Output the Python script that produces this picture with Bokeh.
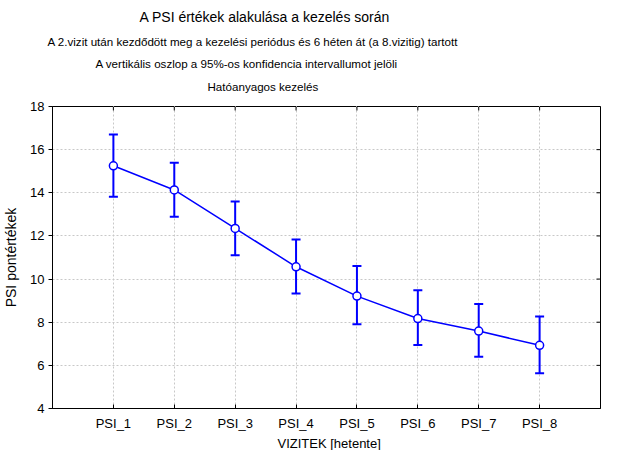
import math
from bokeh.plotting import figure
from bokeh.models import (Range1d, FixedTicker, LinearAxis, Title, Whisker, TeeHead,
                          ColumnDataSource)
from bokeh.embed import file_html
from bokeh.resources import INLINE

categories = ["PSI_1", "PSI_2", "PSI_3", "PSI_4", "PSI_5", "PSI_6", "PSI_7", "PSI_8"]
means = [15.25, 14.13, 12.35, 10.57, 9.21, 8.17, 7.59, 6.93]
upper = [16.70, 15.39, 13.60, 11.84, 10.61, 9.48, 8.85, 8.27]
lower = [13.82, 12.89, 11.11, 9.33, 7.90, 6.94, 6.40, 5.63]
y_ticks = [4, 6, 8, 10, 12, 14, 16, 18]

title_main = "A PSI értékek alakulása a kezelés során"
subtitles = [
    "A 2.vizit után kezdődött meg a kezelési periódus és 6 héten át (a 8.vizitig) tartott",
    "A vertikális oszlop a 95%-os konfidencia intervallumot jelöli",
    "Hatóanyagos kezelés",
]
x_label = "VIZITEK [hetente]"
y_label = "PSI pontértékek"

FONT = "Liberation Sans"
BLUE = "#0000ff"

xs = [i + 1 for i in range(len(categories))]
x_end = len(categories) + 1
src = ColumnDataSource(dict(x=xs, mean=means, upper=upper, lower=lower))

p = figure(width=602, height=450, output_backend="svg", toolbar_location=None,
           x_range=Range1d(0, x_end), y_range=Range1d(y_ticks[0], y_ticks[-1]),
           min_border_left=46, min_border_right=2, min_border_bottom=20, min_border_top=10)
p.background_fill_color = "white"
p.border_fill_color = "white"
p.outline_line_color = "black"
p.outline_line_width = 1

# axes
p.xaxis.ticker = FixedTicker(ticks=xs)
p.xaxis.major_label_overrides = {x: c for x, c in zip(xs, categories)}
p.yaxis.ticker = FixedTicker(ticks=y_ticks)
for ax in (p.xaxis[0], p.yaxis[0]):
    ax.axis_line_color = "black"
    ax.major_tick_line_color = "black"
    ax.minor_tick_line_color = None
    ax.major_label_text_font = FONT
    ax.major_label_text_font_size = "13px"
    ax.major_label_text_color = "black"
    ax.axis_label_text_font = FONT
    ax.axis_label_text_font_style = "normal"
    ax.axis_label_text_color = "black"
p.xaxis.major_tick_in = 4
p.xaxis.major_tick_out = 0
p.xaxis.major_label_standoff = 7
p.yaxis.major_tick_in = 0
p.yaxis.major_tick_out = 4
p.yaxis.major_label_standoff = 4
p.yaxis.axis_label = y_label
p.yaxis.axis_label_text_font_size = "14px"
p.yaxis.axis_label_standoff = 8

# x axis title drawn as a title panel below the tick labels
p.add_layout(Title(text=x_label, align="left", offset=225, text_font=FONT,
                   text_font_size="13px", text_font_style="normal",
                   text_color="black", standoff=0), "below")

# blank spacer axis between the frame and the titles (white, unlabeled)
p.add_layout(LinearAxis(ticker=FixedTicker(ticks=xs), major_tick_out=11, major_tick_in=0,
                        axis_line_color=None, major_tick_line_color="white",
                        major_label_text_color=None, minor_tick_line_color=None), "above")

# inward tick marks on the top and right frame edges (clipped to the frame)
p.scatter(xs, [y_ticks[-1]] * len(xs), marker="dash", angle=math.pi / 2, size=8,
          line_color="black", line_width=1)
p.scatter([x_end] * len(y_ticks), y_ticks, marker="dash", size=8,
          line_color="black", line_width=1)

# grid
p.xgrid.ticker = FixedTicker(ticks=xs)
p.ygrid.ticker = FixedTicker(ticks=y_ticks)
for g in (p.xgrid[0], p.ygrid[0]):
    g.grid_line_color = "#c8c8c8"
    g.grid_line_dash = "2 2"
    g.grid_line_width = 1

# titles (added innermost first)
sub_offsets = [-5, 43, 155]
sub_standoffs = [4, 10, 6]
for t, off, so in reversed(list(zip(subtitles, sub_offsets, sub_standoffs))):
    p.add_layout(Title(text=t, align="left", offset=off, text_font=FONT,
                       text_font_size="11.6px", text_font_style="normal",
                       text_color="black", standoff=so), "above")
p.add_layout(Title(text=title_main, align="left", offset=87, text_font=FONT,
                   text_font_size="14px", text_font_style="normal",
                   text_color="black", standoff=12), "above")

# data
p.add_layout(Whisker(source=src, base="x", upper="upper", lower="lower",
                     line_color=BLUE, line_width=2,
                     upper_head=TeeHead(size=9, line_color=BLUE, line_width=2),
                     lower_head=TeeHead(size=9, line_color=BLUE, line_width=2)))
p.line("x", "mean", source=src, line_color=BLUE, line_width=1.5)
p.scatter("x", "mean", source=src, size=8, fill_color="white", line_color=BLUE, line_width=1.5)

open("out.html", "w").write(file_html(p, INLINE))
